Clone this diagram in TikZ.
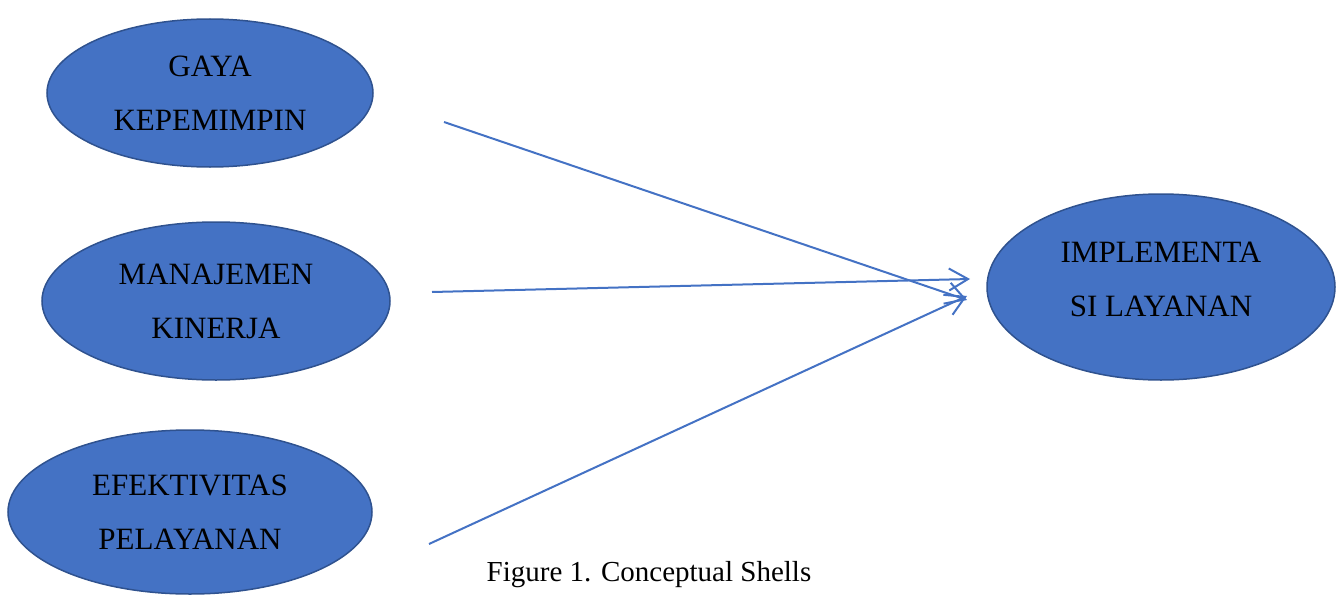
\documentclass[tikz,border=0pt]{standalone}
\usepackage{fontspec}
\setmainfont{Liberation Serif}
\usetikzlibrary{shapes.geometric,arrows.meta}
\definecolor{fillblue}{HTML}{4472C4}
\definecolor{edgeblue}{HTML}{2F528F}
\tikzset{var/.style={ellipse, draw=edgeblue, line width=1.5pt, fill=fillblue,
    align=center, inner sep=0pt, font=\fontsize{31}{54}\selectfont},
  link/.style={draw=fillblue, line width=2pt, -{Straight Barb[length=19pt,width=22pt]}}}
\begin{document}
\begin{tikzpicture}[x=1pt, y=-1pt]
\useasboundingbox (0,0) rectangle (1343,594);
\node[var, minimum width=326pt, minimum height=148pt] (gaya) at (210,93) {GAYA\\KEPEMIMPIN};
\node[var, minimum width=348pt, minimum height=158pt] (mk) at (216,301) {MANAJEMEN\\KINERJA};
\node[var, minimum width=364pt, minimum height=164pt] (ep) at (190,512) {EFEKTIVITAS\\PELAYANAN};
\node[var, minimum width=348pt, minimum height=186pt, text depth=16pt] (il) at (1161,287) {IMPLEMENTA\\SI LAYANAN};
\node[font=\fontsize{29}{30}\selectfont] (cap) at (649,575) {Figure 1. Conceptual Shells};
% arrows
\coordinate (s1) at (444,122);
\coordinate (s2) at (432,292);
\coordinate (s3) at (429,544);
\coordinate (e1) at (967,300);
\coordinate (e2) at (970,279);
\coordinate (e3) at (967,296);
\draw[link] (s1) -- (e1);
\draw[link] (s2) -- (e2);
\draw[link] (s3) -- (e3);
\end{tikzpicture}
\end{document}
